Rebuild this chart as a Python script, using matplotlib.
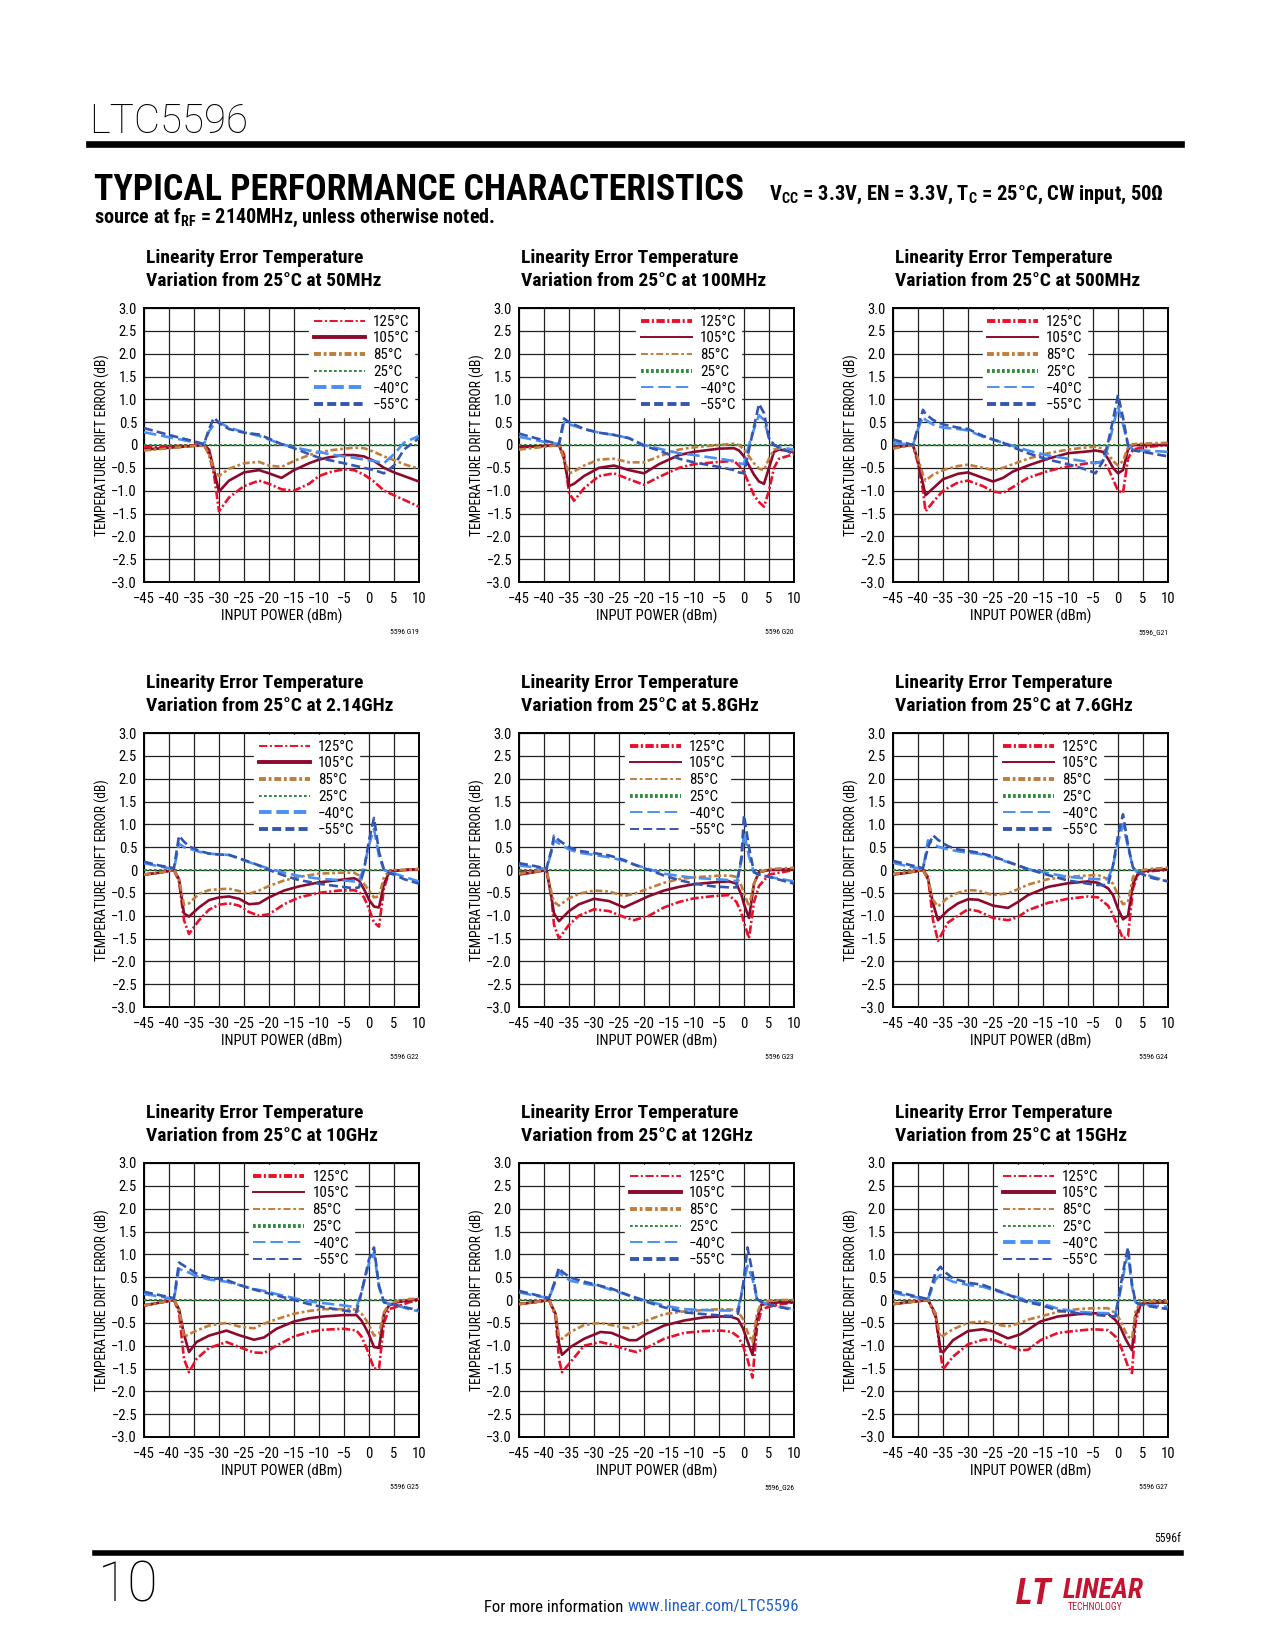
import matplotlib
matplotlib.use("Agg")
import matplotlib.pyplot as plt
from matplotlib import font_manager
from matplotlib.lines import Line2D

# input power (dBm) and drift error (dB)
x_ref = [-45, 10]
t25 = [0.0, 0.0]

# 50MHz (G19)
x19 = [-45, -40, -35, -33, -32, -31, -30, -28, -25, -22, -20, -17.5, -15, -12, -10, -8, -5, -3, -1, 1, 3, 5, 7, 10]
t125_19 = [-0.05, -0.03, -0.01, 0, -0.2, -0.65, -1.45, -1.15, -0.9, -0.78, -0.85, -0.97, -1.0, -0.85, -0.68, -0.6, -0.53, -0.55, -0.65, -0.8, -1.0, -1.1, -1.2, -1.35]
t105_19 = [-0.1, -0.06, -0.02, 0, -0.1, -0.55, -1.02, -0.78, -0.6, -0.55, -0.62, -0.72, -0.55, -0.4, -0.32, -0.27, -0.22, -0.22, -0.25, -0.35, -0.5, -0.6, -0.68, -0.8]
t85_19 = [-0.12, -0.07, -0.02, 0, -0.2, -0.55, -0.68, -0.52, -0.4, -0.37, -0.45, -0.48, -0.35, -0.22, -0.16, -0.12, -0.08, -0.06, -0.07, -0.15, -0.25, -0.33, -0.42, -0.52]
t_40_19 = [0.28, 0.17, 0.06, 0.02, 0.3, 0.45, 0.5, 0.38, 0.28, 0.2, 0.12, 0.02, -0.05, -0.12, -0.15, -0.2, -0.25, -0.28, -0.32, -0.35, -0.4, -0.2, 0.05, 0.2]
t_55_19 = [0.37, 0.22, 0.08, 0.02, 0.35, 0.6, 0.48, 0.35, 0.27, 0.23, 0.14, 0.02, -0.07, -0.2, -0.28, -0.33, -0.4, -0.45, -0.5, -0.55, -0.62, -0.45, -0.1, 0.15]

# 100MHz (G20)
x20 = [-45, -40, -37, -36, -35, -34, -32, -29, -26, -23, -20, -17, -13, -10, -5, -2, -1, 0, 1, 2, 3, 4, 5, 6, 7, 10]
t125_20 = [-0.05, -0.02, 0, -0.2, -1.05, -1.22, -0.95, -0.68, -0.62, -0.75, -0.87, -0.7, -0.5, -0.42, -0.37, -0.35, -0.45, -0.6, -0.85, -1.1, -1.25, -1.35, -1.0, -0.5, -0.3, -0.2]
t105_20 = [-0.05, -0.02, 0, -0.3, -0.9, -0.85, -0.68, -0.5, -0.45, -0.55, -0.62, -0.42, -0.22, -0.15, -0.08, -0.07, -0.12, -0.25, -0.45, -0.65, -0.8, -0.85, -0.5, -0.15, -0.1, -0.15]
t85_20 = [-0.1, -0.04, 0, -0.3, -0.62, -0.58, -0.45, -0.32, -0.3, -0.38, -0.38, -0.25, -0.1, -0.05, 0.0, 0.03, 0.0, -0.1, -0.25, -0.4, -0.52, -0.55, -0.3, -0.1, -0.08, -0.12]
t_40_20 = [0.18, 0.07, 0.02, 0.5, 0.45, 0.42, 0.35, 0.27, 0.22, 0.15, 0.0, -0.08, -0.18, -0.22, -0.3, -0.35, -0.4, -0.42, 0.0, 0.35, 0.65, 0.55, 0.15, 0.0, -0.05, -0.1]
t_55_20 = [0.25, 0.1, 0.02, 0.58, 0.5, 0.45, 0.35, 0.27, 0.22, 0.15, -0.02, -0.12, -0.3, -0.38, -0.48, -0.55, -0.6, -0.62, -0.1, 0.4, 0.9, 0.7, 0.15, 0.0, -0.05, -0.2]

# 500MHz (G21)
x21 = [-45, -41, -40, -39, -38.5, -37, -35, -32, -30, -27, -25, -23, -21, -18, -14, -10, -6, -4.5, -3, -2, -1, 0, 1, 2, 3, 5, 10]
t125_21 = [-0.05, 0, -0.4, -1.0, -1.45, -1.25, -1.0, -0.82, -0.78, -0.9, -1.02, -1.05, -0.92, -0.72, -0.57, -0.47, -0.4, -0.38, -0.38, -0.5, -0.75, -1.0, -1.05, -0.3, -0.1, -0.05, 0.0]
t105_21 = [-0.05, 0, -0.35, -0.85, -1.1, -0.95, -0.75, -0.63, -0.6, -0.72, -0.8, -0.72, -0.58, -0.45, -0.3, -0.18, -0.14, -0.12, -0.15, -0.3, -0.5, -0.62, -0.55, -0.1, 0.0, 0.0, 0.0]
t85_21 = [-0.08, 0, -0.3, -0.65, -0.78, -0.65, -0.55, -0.46, -0.43, -0.5, -0.55, -0.5, -0.42, -0.3, -0.18, -0.1, -0.05, -0.04, -0.08, -0.2, -0.35, -0.45, -0.35, -0.05, 0.02, 0.03, 0.05]
t_40_21 = [0.05, 0.0, 0.35, 0.62, 0.55, 0.45, 0.38, 0.35, 0.32, 0.18, 0.12, 0.05, -0.02, -0.12, -0.23, -0.3, -0.37, -0.4, -0.35, -0.05, 0.4, 0.85, 0.45, 0.0, -0.1, -0.12, -0.15]
t_55_21 = [0.12, 0.0, 0.4, 0.77, 0.68, 0.55, 0.45, 0.38, 0.35, 0.2, 0.12, 0.05, -0.05, -0.18, -0.32, -0.42, -0.55, -0.62, -0.35, 0.05, 0.55, 1.1, 0.6, 0.0, -0.12, -0.15, -0.25]

# 2.14GHz (G22)
x22 = [-45, -42, -39, -38, -37, -36, -34, -32, -30, -28, -26, -24, -22, -20, -17, -14, -10, -6, -3, -2, -1, 0, 1, 2, 3, 4, 5, 7, 10]
t125_22 = [-0.1, -0.06, 0, -0.25, -1.1, -1.4, -1.1, -0.87, -0.76, -0.73, -0.78, -0.92, -1.0, -0.97, -0.75, -0.6, -0.5, -0.45, -0.44, -0.48, -0.6, -0.85, -1.15, -1.24, -0.4, -0.05, -0.02, 0.0, 0.02]
t105_22 = [-0.1, -0.06, 0, -0.2, -0.95, -1.02, -0.82, -0.66, -0.6, -0.58, -0.63, -0.75, -0.73, -0.6, -0.45, -0.36, -0.27, -0.22, -0.18, -0.23, -0.42, -0.65, -0.8, -0.82, -0.3, -0.06, -0.02, 0.0, 0.02]
t85_22 = [-0.1, -0.06, 0, -0.2, -0.76, -0.73, -0.52, -0.44, -0.42, -0.41, -0.46, -0.52, -0.45, -0.35, -0.23, -0.15, -0.08, -0.06, -0.06, -0.12, -0.3, -0.45, -0.6, -0.58, -0.15, -0.04, 0.0, 0.0, 0.02]
t_40_22 = [0.15, 0.08, 0.02, 0.58, 0.5, 0.47, 0.4, 0.36, 0.34, 0.33, 0.25, 0.17, 0.1, 0.03, -0.06, -0.13, -0.19, -0.22, -0.25, -0.24, 0.05, 0.55, 0.9, 0.3, 0.0, -0.05, -0.07, -0.15, -0.25]
t_55_22 = [0.18, 0.1, 0.04, 0.75, 0.62, 0.52, 0.42, 0.36, 0.34, 0.33, 0.26, 0.18, 0.1, 0.0, -0.12, -0.22, -0.3, -0.36, -0.4, -0.38, 0.0, 0.65, 1.14, 0.4, 0.0, -0.07, -0.1, -0.2, -0.3]

# 5.8GHz (G23)
x23 = [-45, -42, -39.5, -38.5, -38, -37, -35, -33, -30, -27, -24, -22, -19, -16, -13, -10, -6, -3, -1.5, -0.5, 0, 1, 2, 3, 5, 10]
t125_23 = [-0.05, -0.03, 0, -0.6, -1.2, -1.5, -1.2, -1.0, -0.86, -0.9, -1.03, -1.1, -1.0, -0.82, -0.7, -0.62, -0.57, -0.55, -0.7, -0.95, -1.15, -1.5, -0.7, -0.35, -0.1, 0.0]
t105_23 = [-0.1, -0.05, 0, -0.6, -0.95, -1.12, -0.9, -0.75, -0.63, -0.68, -0.82, -0.72, -0.57, -0.45, -0.37, -0.31, -0.27, -0.25, -0.3, -0.55, -0.75, -1.05, -0.3, -0.05, 0.0, 0.02]
t85_23 = [-0.08, -0.04, 0, -0.5, -0.7, -0.78, -0.62, -0.52, -0.45, -0.47, -0.57, -0.52, -0.4, -0.28, -0.2, -0.16, -0.13, -0.12, -0.15, -0.35, -0.5, -0.8, -0.3, -0.05, 0.02, 0.05]
t_40_23 = [0.1, 0.06, 0.02, 0.4, 0.65, 0.58, 0.45, 0.38, 0.33, 0.28, 0.2, 0.12, 0.02, -0.08, -0.13, -0.17, -0.2, -0.22, -0.25, 0.2, 0.8, 0.3, -0.05, -0.1, -0.15, -0.25]
t_55_23 = [0.15, 0.09, 0.03, 0.45, 0.75, 0.65, 0.5, 0.42, 0.37, 0.32, 0.22, 0.12, 0.0, -0.12, -0.22, -0.3, -0.36, -0.38, -0.38, 0.3, 1.2, 0.5, -0.05, -0.1, -0.15, -0.3]

# 7.6GHz (G24)
x24 = [-45, -42, -39, -38, -37, -36, -34, -32, -30, -28, -25, -22, -20, -18, -14, -10, -6, -4, -2, -1, 0, 1, 2, 3, 4, 5, 7, 10]
t125_24 = [-0.09, -0.05, 0, -0.15, -1.1, -1.55, -1.15, -1.0, -0.86, -0.9, -1.05, -1.1, -1.03, -0.88, -0.72, -0.63, -0.58, -0.6, -0.78, -0.98, -1.25, -1.5, -1.45, -0.4, -0.1, -0.05, -0.02, 0.0]
t105_24 = [-0.1, -0.06, 0, -0.2, -0.73, -1.1, -0.88, -0.73, -0.64, -0.65, -0.78, -0.83, -0.7, -0.55, -0.37, -0.29, -0.25, -0.28, -0.4, -0.55, -0.85, -1.08, -1.0, -0.3, -0.08, -0.03, 0.0, 0.02]
t85_24 = [-0.09, -0.05, 0, -0.2, -0.65, -0.8, -0.6, -0.5, -0.44, -0.45, -0.55, -0.51, -0.42, -0.32, -0.2, -0.15, -0.12, -0.11, -0.2, -0.3, -0.55, -0.75, -0.7, -0.15, -0.02, 0.0, 0.03, 0.05]
t_40_24 = [0.16, 0.08, 0.02, 0.65, 0.58, 0.51, 0.45, 0.41, 0.38, 0.36, 0.28, 0.17, 0.1, 0.02, -0.07, -0.15, -0.19, -0.2, -0.2, 0.1, 0.6, 1.0, 0.5, 0.05, -0.05, -0.08, -0.15, -0.25]
t_55_24 = [0.2, 0.12, 0.04, 0.5, 0.76, 0.66, 0.52, 0.45, 0.42, 0.38, 0.3, 0.18, 0.1, 0.02, -0.11, -0.23, -0.3, -0.33, -0.33, 0.1, 0.75, 1.22, 0.55, 0.05, -0.05, -0.1, -0.18, -0.25]

# 10GHz (G25)
x25 = [-45, -42, -39, -38, -37, -36, -34.5, -32, -28.5, -26, -23, -21, -18.5, -15, -12, -9, -5, -2.5, -1.5, -0.5, 0, 1, 2, 3, 4, 5.5, 8, 10]
t125_25 = [-0.12, -0.06, 0, -0.27, -1.29, -1.58, -1.29, -1.05, -0.92, -1.03, -1.15, -1.16, -1.0, -0.8, -0.7, -0.65, -0.63, -0.67, -0.8, -1.05, -1.2, -1.5, -1.5, -0.5, -0.2, -0.15, -0.05, 0.0]
t105_25 = [-0.12, -0.06, 0, -0.2, -0.75, -1.14, -0.92, -0.78, -0.67, -0.77, -0.87, -0.82, -0.63, -0.47, -0.4, -0.36, -0.33, -0.33, -0.45, -0.65, -0.76, -1.03, -1.05, -0.3, -0.12, -0.05, -0.01, 0.02]
t85_25 = [-0.12, -0.06, 0, -0.2, -0.81, -0.75, -0.67, -0.56, -0.5, -0.58, -0.62, -0.52, -0.42, -0.3, -0.24, -0.2, -0.2, -0.21, -0.3, -0.45, -0.55, -0.78, -0.74, -0.27, -0.09, -0.03, 0.02, 0.03]
t_40_25 = [0.13, 0.08, 0.02, 0.68, 0.64, 0.6, 0.52, 0.45, 0.4, 0.33, 0.24, 0.2, 0.13, 0.04, -0.03, -0.07, -0.12, -0.16, 0.17, 0.6, 0.8, 1.03, 0.3, -0.05, -0.08, -0.12, -0.2, -0.25]
t_55_25 = [0.18, 0.11, 0.04, 0.82, 0.75, 0.68, 0.58, 0.49, 0.44, 0.33, 0.23, 0.17, 0.1, 0.0, -0.09, -0.16, -0.23, -0.27, 0.17, 0.65, 0.89, 1.15, 0.3, -0.05, -0.08, -0.11, -0.18, -0.22]

# 12GHz (G26)
x26 = [-45, -42, -39, -37.7, -37, -36.4, -34.7, -32, -28.7, -26.5, -23, -21.5, -19.5, -16, -12, -8, -4.5, -2.5, -1.2, -0.2, 0.7, 1.7, 2.6, 3.5, 5, 7, 10]
t125_26 = [-0.09, -0.05, 0, -0.34, -1.3, -1.58, -1.36, -1.0, -0.92, -0.98, -1.1, -1.14, -1.05, -0.85, -0.72, -0.68, -0.67, -0.7, -0.8, -1.0, -1.3, -1.7, -0.6, -0.2, -0.15, -0.1, -0.05]
t105_26 = [-0.09, -0.05, 0, -0.3, -0.95, -1.2, -1.03, -0.85, -0.7, -0.72, -0.88, -0.88, -0.74, -0.56, -0.45, -0.38, -0.36, -0.37, -0.42, -0.62, -0.9, -1.2, -0.4, -0.1, -0.08, -0.05, -0.05]
t85_26 = [-0.09, -0.05, 0, -0.3, -0.8, -0.85, -0.7, -0.55, -0.5, -0.55, -0.62, -0.56, -0.45, -0.31, -0.25, -0.22, -0.2, -0.21, -0.25, -0.42, -0.7, -0.92, -0.3, -0.05, -0.02, 0.0, 0.0]
t_40_26 = [0.17, 0.1, 0.04, 0.4, 0.62, 0.55, 0.42, 0.36, 0.3, 0.22, 0.1, 0.05, -0.02, -0.12, -0.2, -0.22, -0.23, -0.23, -0.2, 0.31, 0.75, 0.46, 0.02, -0.05, -0.1, -0.15, -0.2]
t_55_26 = [0.2, 0.12, 0.04, 0.45, 0.71, 0.62, 0.49, 0.4, 0.31, 0.25, 0.1, 0.04, -0.04, -0.16, -0.27, -0.31, -0.34, -0.35, -0.3, 0.31, 1.15, 0.6, 0.02, -0.05, -0.1, -0.15, -0.22]

# 15GHz (G27)
x27 = [-45, -42, -38, -36.5, -35.5, -35, -33, -30, -27, -25, -22, -19.5, -18, -15.5, -12, -8, -5, -2, -0.5, 0.5, 1.5, 2, 2.8, 3.5, 4.5, 7, 10]
t125_27 = [-0.09, -0.05, 0, -0.36, -1.17, -1.52, -1.24, -0.97, -0.87, -0.86, -1.0, -1.1, -1.09, -0.88, -0.72, -0.67, -0.64, -0.66, -0.8, -1.0, -1.3, -1.45, -1.6, -0.5, -0.1, -0.07, -0.05]
t105_27 = [-0.09, -0.05, 0, -0.3, -1.1, -1.15, -0.88, -0.68, -0.64, -0.69, -0.84, -0.75, -0.65, -0.47, -0.36, -0.31, -0.29, -0.3, -0.44, -0.6, -0.85, -0.95, -1.1, -0.35, -0.08, -0.06, -0.05]
t85_27 = [-0.09, -0.05, 0, -0.3, -0.82, -0.78, -0.64, -0.5, -0.47, -0.52, -0.58, -0.5, -0.43, -0.36, -0.26, -0.2, -0.18, -0.18, -0.29, -0.45, -0.7, -0.8, -0.85, -0.25, -0.05, -0.03, -0.03]
t_40_27 = [0.16, 0.09, 0.02, 0.45, 0.55, 0.5, 0.4, 0.33, 0.29, 0.22, 0.12, 0.04, -0.01, -0.07, -0.19, -0.26, -0.28, -0.29, -0.29, 0.2, 0.8, 1.0, 0.3, -0.05, -0.1, -0.12, -0.15]
t_55_27 = [0.2, 0.12, 0.02, 0.6, 0.73, 0.65, 0.47, 0.38, 0.33, 0.25, 0.12, 0.0, -0.05, -0.11, -0.23, -0.29, -0.32, -0.35, -0.36, 0.3, 0.9, 1.15, 0.35, -0.05, -0.1, -0.15, -0.2]

freqs = ["50MHz", "100MHz", "500MHz", "2.14GHz", "5.8GHz", "7.6GHz", "10GHz", "12GHz", "15GHz"]
codes = ["5596 G19", "5596 G20", "5596_G21", "5596 G22", "5596 G23", "5596 G24", "5596 G25", "5596_G26", "5596 G27"]
temps = ["125°C", "105°C", "85°C", "25°C", "\u221240°C", "\u221255°C"]
x_ticks = [-45, -40, -35, -30, -25, -20, -15, -10, -5, 0, 5, 10]
y_ticks = [-3.0, -2.5, -2.0, -1.5, -1.0, -0.5, 0, 0.5, 1.0, 1.5, 2.0, 2.5, 3.0]

# styles
colors = ["#e8102a", "#8c0a2c", "#c17d3c", "#2f8a3c", "#4a8ff2", "#3556b0"]
dashes = [(6, 1.8, 1.5, 1.8), (None, None), (5, 2, 2, 2), (2, 1.6), (9, 3.5), (6.5, 3)]
leg_thick = ["tTTtTT", "TttTtT", "TtTTtT", "tTTtTT", "TttTtt", "TtTTtT", "TttTtt", "tTTttT", "tTttTt"]
leg_right = [0.99, 0.815, 0.715, 0.79, 0.775, 0.772, 0.77, 0.776, 0.772]

panels = [
    (x19, [t125_19, t105_19, t85_19, t_40_19, t_55_19]),
    (x20, [t125_20, t105_20, t85_20, t_40_20, t_55_20]),
    (x21, [t125_21, t105_21, t85_21, t_40_21, t_55_21]),
    (x22, [t125_22, t105_22, t85_22, t_40_22, t_55_22]),
    (x23, [t125_23, t105_23, t85_23, t_40_23, t_55_23]),
    (x24, [t125_24, t105_24, t85_24, t_40_24, t_55_24]),
    (x25, [t125_25, t105_25, t85_25, t_40_25, t_55_25]),
    (x26, [t125_26, t105_26, t85_26, t_40_26, t_55_26]),
    (x27, [t125_27, t105_27, t85_27, t_40_27, t_55_27]),
]

names = {f.name for f in font_manager.fontManager.ttflist}


def pick(*cands):
    for n in cands:
        if n in names:
            return n
    return "DejaVu Sans"


narrow = pick("Liberation Sans Narrow", "Roboto Condensed", "Open Sans Condensed", "Liberation Sans")
light = pick("Roboto", "Open Sans", "Lato")

plt.rcParams["font.family"] = [narrow, "DejaVu Sans"]
plt.rcParams["lines.scale_dashes"] = False
plt.rcParams["mathtext.fontset"] = "custom"
plt.rcParams["mathtext.rm"] = narrow + ":bold"
plt.rcParams["mathtext.it"] = narrow + ":bold"
plt.rcParams["mathtext.bf"] = narrow + ":bold"

W, H = 1275, 1650
fig = plt.figure(figsize=(W / 100, H / 100), dpi=100)
renderer = fig.canvas.get_renderer()


def fx(px):
    return px / W


def fy(py):
    return 1 - py / H


def fit(t, width):
    # scale font so the text spans the given pixel width
    w = t.get_window_extent(renderer).width
    t.set_fontsize(t.get_fontsize() * width / w)


# header
fig.text(fx(89), fy(122), "LTC5596", family=light, weight="light", fontsize=29, va="center")
fig.add_artist(Line2D([fx(89), fx(1181)], [fy(144), fy(144)], color="black", lw=4.8))
hd = fig.text(fx(94), fy(190), "TYPICAL PERFORMANCE CHARACTERISTICS", fontsize=26, weight="bold",
              va="center")
fit(hd, 651)
sub = fig.text(fx(769), fy(195), r"V$_{CC}$ = 3.3V, EN = 3.3V, T$_{C}$ = 25°C, CW input, 50Ω",
               fontsize=13.8, weight="bold", va="center")
fit(sub, 394)
src = fig.text(fx(94), fy(218), r"source at f$_{RF}$ = 2140MHz, unless otherwise noted.",
               fontsize=13, weight="bold", va="center")
fit(src, 400)

# footer
fig.add_artist(Line2D([fx(95), fx(1181)], [fy(1553), fy(1553)], color="black", lw=4))
fig.text(fx(1181), fy(1538), "5596f", fontsize=8.5, ha="right", va="center")
fig.text(fx(98), fy(1586), "10", family=light, weight="light", fontsize=40, va="center")
t1 = fig.text(fx(484), fy(1607), "For more information", fontsize=12, va="center")
bb = t1.get_window_extent(renderer)
fig.text(bb.x1 / W + fx(4), fy(1607), "www.linear.com/LTC5596", fontsize=12, va="center",
         color="#1f5fc9")
fig.text(fx(1016), fy(1594), "LT", fontsize=26, weight="bold", style="italic", color="#c4122f", va="center")
fig.text(fx(1063), fy(1590), "LINEAR", fontsize=20, weight="bold", style="italic", color="#c4122f", va="center")
fig.text(fx(1068), fy(1607), "TECHNOLOGY", fontsize=7, color="#c4122f", va="center")

cols = [144, 519, 893]
tops = [308, 733, 1163]
aw, ah = 275, 274

for i, (x, series) in enumerate(panels):
    r, c = divmod(i, 3)
    left, top = cols[c], tops[r]
    ax = fig.add_axes([fx(left), fy(top + ah), aw / W, ah / H])
    ax.set_xlim(-45, 10)
    ax.set_ylim(-3, 3)
    ax.set_xticks(x_ticks)
    ax.set_yticks(y_ticks)
    ax.set_xticklabels([str(v).replace("-", "\u2212") for v in x_ticks])
    ax.set_yticklabels(["0" if v == 0 else f"{v:.1f}".replace("-", "\u2212") for v in y_ticks])
    ax.tick_params(length=0, labelsize=10.5)
    ax.tick_params(axis="x", pad=7)
    ax.tick_params(axis="y", pad=5)
    ax.grid(True, color="#222222", lw=0.9)
    ax.set_axisbelow(True)
    for s in ax.spines.values():
        s.set_linewidth(1.4)

    ax.plot(x_ref, t25, color=colors[3], lw=1.5, dashes=dashes[3], zorder=3)
    for k, y in zip([0, 1, 2, 4, 5], series):
        ls = dict(dashes=dashes[k]) if k != 1 else {}
        ax.plot(x, y, color=colors[k], lw=1.9, zorder=4, **ls)

    handles = []
    for k in range(6):
        lw = 2.8 if leg_thick[i][k] == "T" else 1.4
        h = Line2D([], [], color=colors[k], lw=lw)
        if k != 1:
            h.set_dashes(dashes[k])
        handles.append(h)
    leg = ax.legend(handles, temps, loc="upper right", bbox_to_anchor=(leg_right[i], 1.0),
                    fontsize=10.8, frameon=True, fancybox=False, framealpha=1, edgecolor="white",
                    handlelength=3.4, handletextpad=0.55, labelspacing=0.18, borderpad=0.3,
                    borderaxespad=0.15)
    leg.set_zorder(5)

    fig.text(fx(left + 2), fy(top - 50), "Linearity Error Temperature", fontsize=14,
             weight="bold", va="center")
    fig.text(fx(left + 2), fy(top - 27), f"Variation from 25°C at {freqs[i]}", fontsize=14,
             weight="bold", va="center")
    ax.text(-42 / aw, 0.5, "TEMPERATURE DRIFT ERROR (dB)", transform=ax.transAxes,
            rotation=90, ha="center", va="center", fontsize=9.8)
    ax.text(0.5, -34 / ah, "INPUT POWER (dBm)", transform=ax.transAxes,
            ha="center", va="center", fontsize=10.5)
    ax.text(1.0, -50 / ah, codes[i], transform=ax.transAxes, ha="right", va="center", fontsize=5.5)

fig.savefig("out.png", dpi=100)
